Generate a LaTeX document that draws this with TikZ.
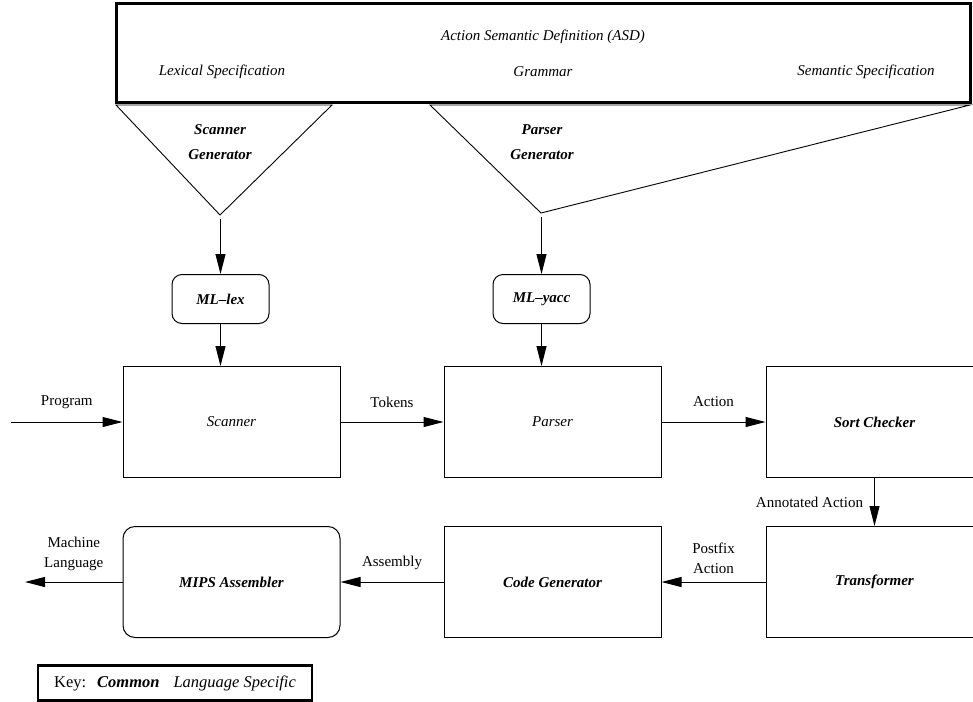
\documentclass[tikz,border=0pt]{standalone}
\usepackage{fontspec}
\setmainfont{Liberation Serif}
\usetikzlibrary{arrows.meta}
\begin{document}
\fontsize{15}{20}\selectfont
\begin{tikzpicture}[x=1pt,y=-1pt,
  box/.style={draw, line width=1pt, minimum width=217pt, minimum height=111pt, inner sep=0pt, font=\itshape},
  cbox/.style={box, font=\bfseries\itshape},
  rbox/.style={cbox, rounded corners=12pt},
  small/.style={draw, line width=1pt, rounded corners=10pt, minimum width=97pt, minimum height=49pt, inner sep=0pt, font=\bfseries\itshape},
  arr/.style={-{Triangle[length=20pt,width=10pt]}, line width=1pt},
  lbl/.style={inner sep=0pt, align=center},
  tri/.style={draw, line width=0.9pt, line join=miter},
  bi/.style={inner sep=0pt, font=\bfseries\itshape},
  it/.style={inner sep=0pt, font=\itshape}
]
\useasboundingbox (0,0) rectangle (973,701);

% top definition box
\node[draw, line width=3pt, minimum width=854pt, minimum height=98pt, inner sep=0pt] (asd) at (543,53) {};
\node[it] (asdtitle) at (543,37) {Action Semantic Definition (ASD)};
\node[it] (lexspec) at (222,72) {Lexical Specification};
\node[it] (grammar) at (543,72) {Grammar};
\node[it] (semspec) at (866,72) {Semantic Specification};

% generator triangles
\draw[tri] (116,105) -- (332,105) -- (220,215) -- cycle;
\coordinate (sgapex) at (220.5,215);
\node[bi] (sg1) at (220,130) {Scanner};
\node[bi] (sg2) at (220,155) {Generator};

\draw[tri] (430,105) -- (970,105) -- (541,213) -- cycle;
\coordinate (pgapex) at (541.5,213);
\node[bi] (pg1) at (542,130) {Parser};
\node[bi] (pg2) at (542,155) {Generator};

% tool boxes
\node[small] (mllex) at (220.5,299) {ML–lex};
\node[small] (mlyacc) at (541.5,299) {ML–yacc};

% main boxes
\node[box] (scanner) at (231.5,422) {Scanner};
\node[box] (parser) at (552.5,422) {Parser};
\node[cbox] (sort) at (874.5,422) {Sort Checker};
\node[cbox] (trans) at (874.5,582) {Transformer};
\node[cbox] (codegen) at (552.5,582) {Code Generator};
\node[rbox] (mips) at (231.5,582) {MIPS Assembler};

\coordinate (progstart) at (11,422);
\coordinate (mlend) at (25,582);

% connectors
\draw[arr] ([yshift=-4pt]sgapex) -- (mllex.north);
\draw[arr] (mllex.south) -- (mllex.south |- scanner.north);
\draw[arr] ([yshift=-4pt]pgapex) -- (mlyacc.north);
\draw[arr] (mlyacc.south) -- (mlyacc.south |- parser.north);

\draw[arr] (progstart) -- node[lbl, midway, yshift=20pt] {Program} (scanner.west);
\draw[arr] (scanner.east) -- node[lbl, midway, yshift=20pt] {Tokens} (parser.west);
\draw[arr] (parser.east) -- node[lbl, midway, yshift=20pt] {Action} (sort.west);
\draw[arr] (sort.south) -- node[lbl, midway, anchor=east, xshift=-11pt] {Annotated Action} (trans.north);
\draw[arr] (trans.west) -- node[lbl, midway, yshift=24pt] {Postfix\\Action} (codegen.east);
\draw[arr] (codegen.west) -- node[lbl, midway, yshift=19pt] {Assembly} (mips.east);
\draw[arr] (mips.west) -- node[lbl, midway, yshift=28pt] {Machine\\Language} (mlend);

% key
\node[draw, line width=2.5pt, minimum width=274pt, minimum height=35pt, inner sep=0pt,
  font=\fontsize{16.5}{20}\selectfont] (key) at (175,683)
  {Key:\hspace{11pt}\textbf{\textit{Common}}\hspace{14pt}\textit{Language Specific}};
\end{tikzpicture}
\end{document}
